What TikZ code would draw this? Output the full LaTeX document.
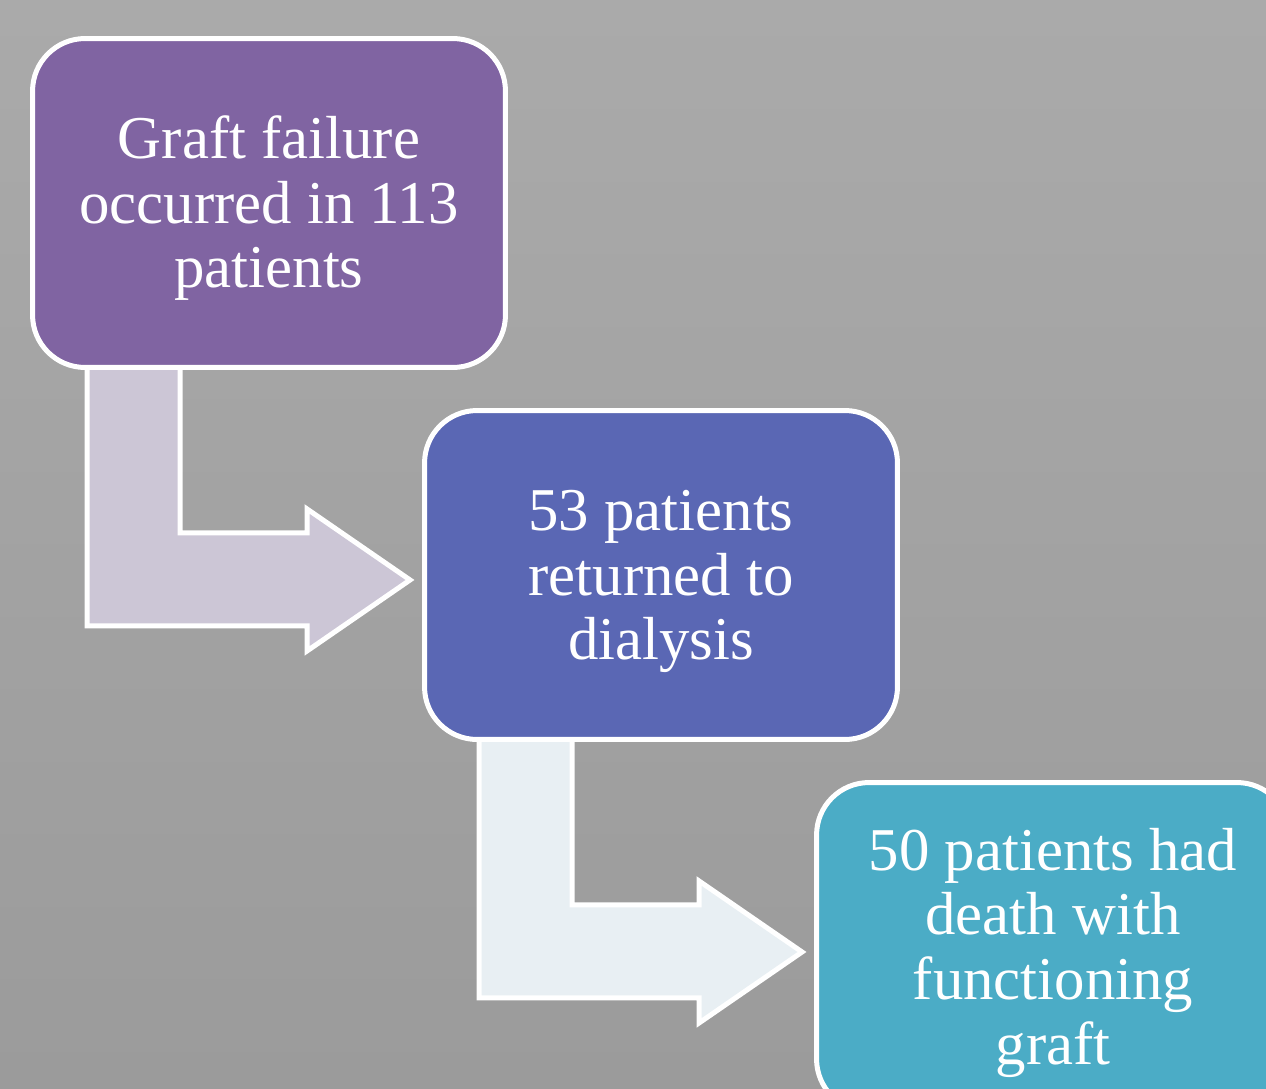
\documentclass[tikz,border=0pt]{standalone}
\usepackage{fontspec}
\setmainfont{Liberation Serif}
\usepackage{xcolor}
\usetikzlibrary{positioning}
\definecolor{bgtop}{HTML}{AAAAAA}
\definecolor{bgbot}{HTML}{9B9B9B}
\definecolor{failpurple}{HTML}{8064A2}
\definecolor{dialblue}{HTML}{5A67B4}
\definecolor{deathaqua}{HTML}{4BACC6}
\definecolor{arrowA}{HTML}{CCC6D6}
\definecolor{arrowB}{HTML}{E8EFF3}
\newcommand{\firstline}{\rule{0pt}{30.5pt}}
\pgfdeclarelayer{bg}
\pgfdeclarelayer{arr}
\pgfsetlayers{bg,arr,main}

\begin{document}
\begin{tikzpicture}[x=0.02cm, y=-0.02cm,
      box/.style={draw=white, line width=0.1cm, rounded corners=1.05cm,
                  minimum width=9.46cm, minimum height=6.58cm, outer sep=0pt,
                  text=white, align=center,
                  font=\fontsize{34.6}{36.8}\selectfont},
      pics/bentarrow/.style={code={
        \draw[white, line width=0.1cm, fill=#1]
          (54.5,-25) -- (54.5,258.5) -- (274.5,258.5) -- (274.5,283.5)
          -- (377.5,212.5) -- (274.5,141.5) -- (274.5,165.5)
          -- (147.5,165.5) -- (147.5,-25) -- cycle;}}
  ]
    \useasboundingbox (0,0) rectangle (1266,1088);
    \begin{pgfonlayer}{bg}
      \shade[top color=bgtop, bottom color=bgbot] (0,0) rectangle (1266,1088);
    \end{pgfonlayer}
    \node[box, fill=failpurple] (fail)  at (269,203) {\firstline Graft failure\\ occurred in 113\\ patients};
    \node[box, fill=dialblue]   (dial)  at (661,575) {\firstline 53 patients\\ returned to\\ dialysis};
    \node[box, fill=deathaqua]  (death) at (1053,947) {\firstline 50 patients had\\ death with\\ functioning\\ graft};
    % bent arrows behind the boxes
    \begin{pgfonlayer}{arr}
      \foreach \from/\col in {fail/arrowA, dial/arrowB}
        \pic at (\from.south west) {bentarrow=\col};
    \end{pgfonlayer}
  \end{tikzpicture}
\end{document}
